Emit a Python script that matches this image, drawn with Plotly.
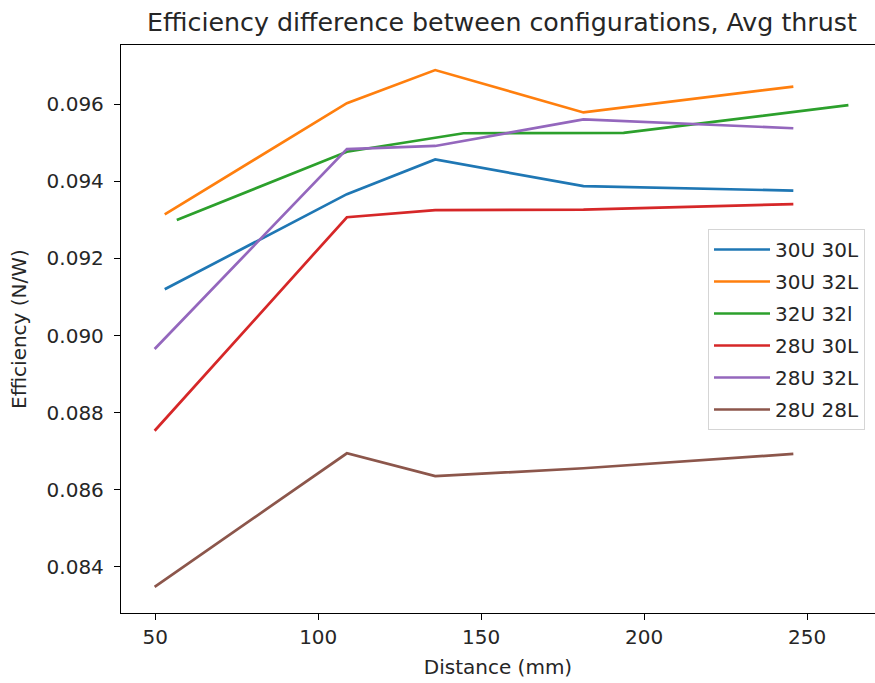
import plotly.graph_objects as go

title = "Efficiency difference between configurations, Avg thrust"
x_label = "Distance (mm)"
y_label = "Efficiency (N/W)"

series_names = ["30U 30L", "30U 32L", "32U 32l", "28U 30L", "28U 32L", "28U 28L"]
colors = ["#1f77b4", "#ff7f0e", "#2ca02c", "#d62728", "#9467bd", "#8c564b"]

x_30u30l = [52.9, 108.8, 135.9, 181.4, 245.8]
y_30u30l = [0.09120, 0.09367, 0.09457, 0.09388, 0.09376]

x_30u32l = [52.9, 108.8, 135.9, 181.4, 245.8]
y_30u32l = [0.093145, 0.09603, 0.09689, 0.09579, 0.09646]

x_32u32l = [56.6, 108.8, 144.6, 193.7, 262.7]
y_32u32l = [0.09300, 0.09477, 0.09525, 0.09526, 0.09598]

x_28u30l = [49.8, 108.8, 135.9, 181.4, 245.8]
y_28u30l = [0.08753, 0.09307, 0.093257, 0.09327, 0.093413]

x_28u32l = [49.8, 108.8, 135.9, 181.4, 245.8]
y_28u32l = [0.08965, 0.09484, 0.09492, 0.09561, 0.09538]

x_28u28l = [49.8, 108.8, 135.9, 181.4, 245.8]
y_28u28l = [0.08348, 0.086945, 0.086351, 0.086556, 0.086927]

xs = [x_30u30l, x_30u32l, x_32u32l, x_28u30l, x_28u32l, x_28u28l]
ys = [y_30u30l, y_30u32l, y_32u32l, y_28u30l, y_28u32l, y_28u28l]

x_ticks = [50, 100, 150, 200, 250]
y_ticks = [0.084, 0.086, 0.088, 0.090, 0.092, 0.094, 0.096]

FONT = "DejaVu Sans"
TXT = "#262626"

fig = go.Figure()
for i, (name, c, xv, yv) in enumerate(zip(series_names, colors, xs, ys)):
    fig.add_trace(go.Scatter(x=xv, y=yv, mode="lines", name=name,
                             line=dict(color=c, width=2.7),
                             legendgroup="g%d" % i))

fig.update_layout(
    width=875, height=683,
    margin=dict(l=121, r=0, t=45, b=70),
    paper_bgcolor="white", plot_bgcolor="white",
    font=dict(family=FONT, size=20, color=TXT),
    title=dict(text=title, x=502 / 875, xref="container", xanchor="center",
               y=1 - 22 / 683, yref="container", yanchor="middle",
               font=dict(family=FONT, size=25.3, color=TXT)),
    showlegend=True,
    legend=dict(x=(708 - 121) / 754, y=(613 - 229) / 568, xanchor="left", yanchor="top",
                bgcolor="white", bordercolor="#d5d5d5", borderwidth=1,
                font=dict(family=FONT, size=20, color=TXT),
                tracegroupgap=3, itemwidth=56),
)
fig.update_xaxes(range=[39.48, 270.86], tickvals=x_ticks, ticktext=[str(v) for v in x_ticks],
                 showgrid=False, zeroline=False, showline=True, linecolor="black", linewidth=1.3,
                 mirror=True, ticks="outside", ticklen=6, tickwidth=1.3, tickcolor="black",
                 tickfont=dict(family=FONT, size=20, color=TXT),
                 title=dict(text=x_label, standoff=11, font=dict(family=FONT, size=20, color=TXT)))
fig.update_yaxes(range=[0.0828, 0.09754], tickvals=y_ticks, ticktext=["%.3f" % v for v in y_ticks],
                 showgrid=False, zeroline=False, showline=True, linecolor="black", linewidth=1.3,
                 mirror=False, ticks="outside", ticklen=6, tickwidth=1.3, tickcolor="black",
                 ticklabelstandoff=6,
                 tickfont=dict(family=FONT, size=20, color=TXT),
                 title=dict(text=y_label, standoff=14, font=dict(family=FONT, size=20, color=TXT)))

fig.write_html("out.html")
